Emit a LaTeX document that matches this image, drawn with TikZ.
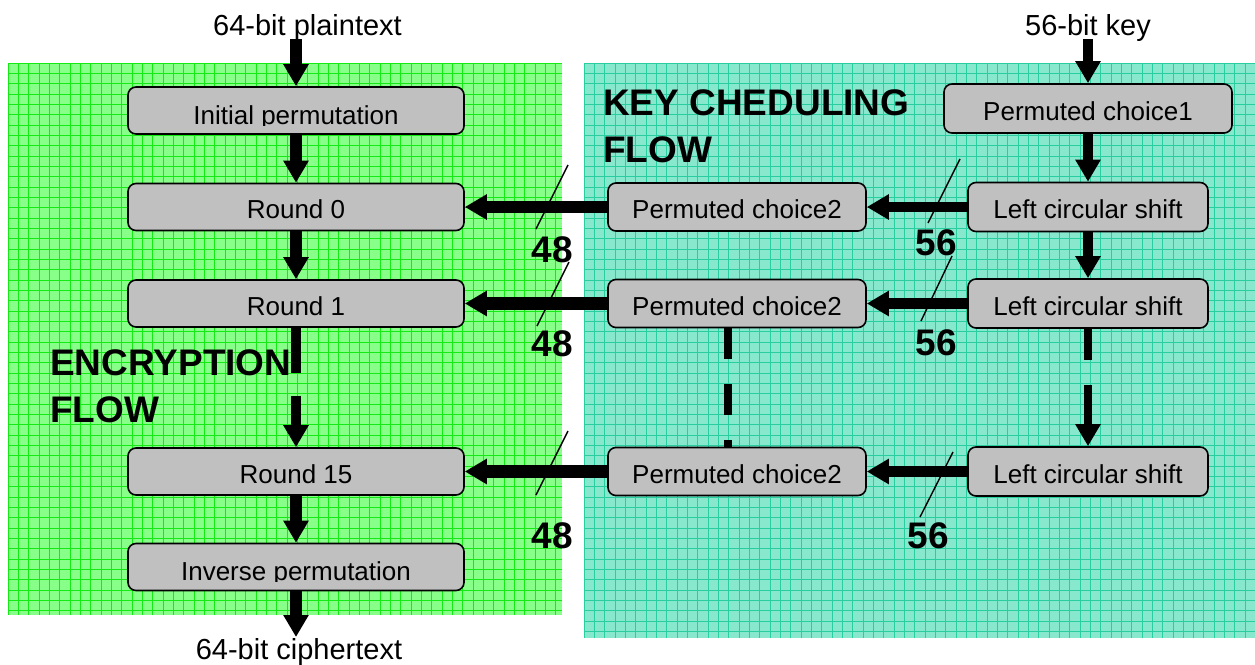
\documentclass[tikz,border=0pt]{standalone}
\usepackage{fontspec}
\setmainfont{Liberation Sans}
\usetikzlibrary{arrows.meta,calc}
\definecolor{encfill}{RGB}{136,255,136}
\definecolor{encgrid}{RGB}{20,235,20}
\definecolor{keyfill}{RGB}{136,232,206}
\definecolor{keygrid}{RGB}{40,205,160}
\definecolor{boxgray}{RGB}{192,192,192}
\begin{document}
\begin{tikzpicture}[x=1pt,y=-1pt,
  stage/.style={draw=black, line width=1.6pt, fill=boxgray, rounded corners=8pt,
    inner sep=0pt, font=\fontsize{26}{30}\selectfont, text height=23pt, text depth=0pt},
  encbox/.style={stage, minimum width=336pt, minimum height=47pt},
  pcbox/.style={stage, minimum width=258pt, minimum height=48pt},
  lcsbox/.style={stage, minimum width=240pt, minimum height=49pt},
  cliptext/.style={inner sep=0pt, font=\fontsize{26}{30}\selectfont},
  lbl/.style={inner sep=0pt, font=\fontsize{29}{34}\selectfont, anchor=base},
  title/.style={inner sep=0pt, font=\fontsize{37}{47}\selectfont\bfseries, anchor=base west},
  width/.style={inner sep=0pt, font=\fontsize{37}{44}\selectfont\bfseries, anchor=base},
  flowL/.style={line width=12.5pt, -{Triangle[length=22pt,width=24pt]}},
  flowR/.style={line width=10.5pt, -{Triangle[length=22pt,width=24pt]}},
  tick/.style={line width=1.4pt}
]
\useasboundingbox (0,0) rectangle (1255,664);

% encryption panel with grid
\fill[encfill] (8,63) rectangle (562,615);
\begin{scope}
  \clip (8,63) rectangle (562,615);
  \foreach \i in {0,...,54} \draw[encgrid, line width=0.65pt] ({8+10.33*\i},63) -- ++(0,552);
  \foreach \j in {0,...,53} \draw[encgrid, line width=0.65pt] (8,{63+10.33*\j}) -- ++(554,0);
\end{scope}

% key scheduling panel with grid
\fill[keyfill] (584,63) rectangle (1255,638);
\begin{scope}
  \clip (584,63) rectangle (1255,638);
  \foreach \i in {0,...,65} \draw[keygrid, line width=0.65pt] ({584+10.33*\i},63) -- ++(0,575);
  \foreach \j in {0,...,56} \draw[keygrid, line width=0.65pt] (584,{63+10.33*\j}) -- ++(671,0);
\end{scope}

% panel titles
\node[title] (kt1) at (603,115) {KEY CHEDULING};
\node[title] (kt2) at (603,162) {FLOW};
\node[title] (et1) at (50,375) {ENCRYPTION};
\node[title] (et2) at (50,422) {FLOW};

% encryption stages
\node[encbox] (ip) at (296,110.5) {};
\node[encbox] (r0) at (296,207) {Round 0};
\node[encbox] (r1) at (296,303.5) {Round 1};
\node[encbox] (r15) at (296,471.5) {Round 15};
\node[encbox] (inv) at (296,567) {};
\begin{scope}
  \clip ($(ip.north west)+(2,2)$) rectangle ($(ip.south east)+(-2,-9)$);
  \node[cliptext, anchor=base] (ipt) at (296,124) {Initial permutation};
\end{scope}
\begin{scope}
  \clip ($(inv.north west)+(2,2)$) rectangle ($(inv.south east)+(-2,-10)$);
  \node[cliptext, anchor=base] (invt) at (296,580) {Inverse permutation};
\end{scope}

% key schedule stages
\node[stage, minimum width=288pt, minimum height=49pt] (pc1) at (1088,108.5) {Permuted choice1};
\node[lcsbox] (ls0) at (1088,207) {Left circular shift};
\node[lcsbox] (ls1) at (1088,303.5) {Left circular shift};
\node[lcsbox] (ls15) at (1088,471.5) {Left circular shift};
\node[pcbox] (pc0) at (737,207) {Permuted choice2};
\node[pcbox] (pcb) at (737,303.5) {Permuted choice2};
\node[pcbox] (pcc) at (737,471.5) {Permuted choice2};

% inputs and output
\node[lbl] (ptxt) at (307.5,35) {64-bit plaintext};
\node[lbl] (key) at (1088,35) {56-bit key};
\node[lbl] (ctxt) at (299,659) {64-bit ciphertext};
\coordinate (ptin) at (296,39);
\coordinate (keyin) at (1088,39);
\coordinate (ctout) at (296,637);

% encryption data path
\draw[flowL] (ptin) -- (ip);
\draw[flowL] (ip) -- (r0);
\draw[flowL] (r0) -- (r1);
\draw[flowL, line width=10pt, dash pattern=on 45pt off 23pt on 200pt off 0pt] (r1) -- (r15);
\draw[flowL] (r15) -- (inv);
\draw[flowL] (inv) -- (ctout);

% key schedule path
\draw[flowR] (keyin) -- (pc1);
\draw[flowR] (pc1) -- (ls0);
\draw[flowR] (ls0) -- (ls1);
\draw[flowR, line width=8pt, dash pattern=on 31pt off 25pt on 200pt off 0pt] (ls1) -- (ls15);
\draw[line width=8pt, dash pattern=on 31pt off 25pt]
  ($(pcb.south)+(-9,0)$) -- ($(pcc.north)+(-9,0)$);

% subkeys into the rounds
\draw[flowL] (pc0) -- (r0);
\draw[flowL] (pcb) -- (r1);
\draw[flowL] (pcc) -- (r15);
\draw[flowR] (ls0) -- (pc0);
\draw[flowR] (ls1) -- (pcb);
\draw[flowR] (ls15) -- (pcc);

% bus width marks
\coordinate (a0) at (568,165); \coordinate (b0) at (536,229);
\coordinate (a1) at (569,262); \coordinate (b1) at (537,326);
\coordinate (a2) at (568,431); \coordinate (b2) at (536,495);
\coordinate (c0) at (960,159); \coordinate (d0) at (928,223);
\coordinate (c1) at (952,256); \coordinate (d1) at (921,321);
\coordinate (c2) at (953,452); \coordinate (d2) at (920,517);
\draw[tick] (a0) -- (b0);
\draw[tick] (a1) -- (b1);
\draw[tick] (a2) -- (b2);
\draw[tick] (c0) -- (d0);
\draw[tick] (c1) -- (d1);
\draw[tick] (c2) -- (d2);
\node[width] (w0) at (552,262) {48};
\node[width] (w1) at (552,356) {48};
\node[width] (w2) at (552,548) {48};
\node[width] (k0) at (936,255) {56};
\node[width] (k1) at (936,355) {56};
\node[width] (k2) at (928,548) {56};
\end{tikzpicture}
\end{document}
